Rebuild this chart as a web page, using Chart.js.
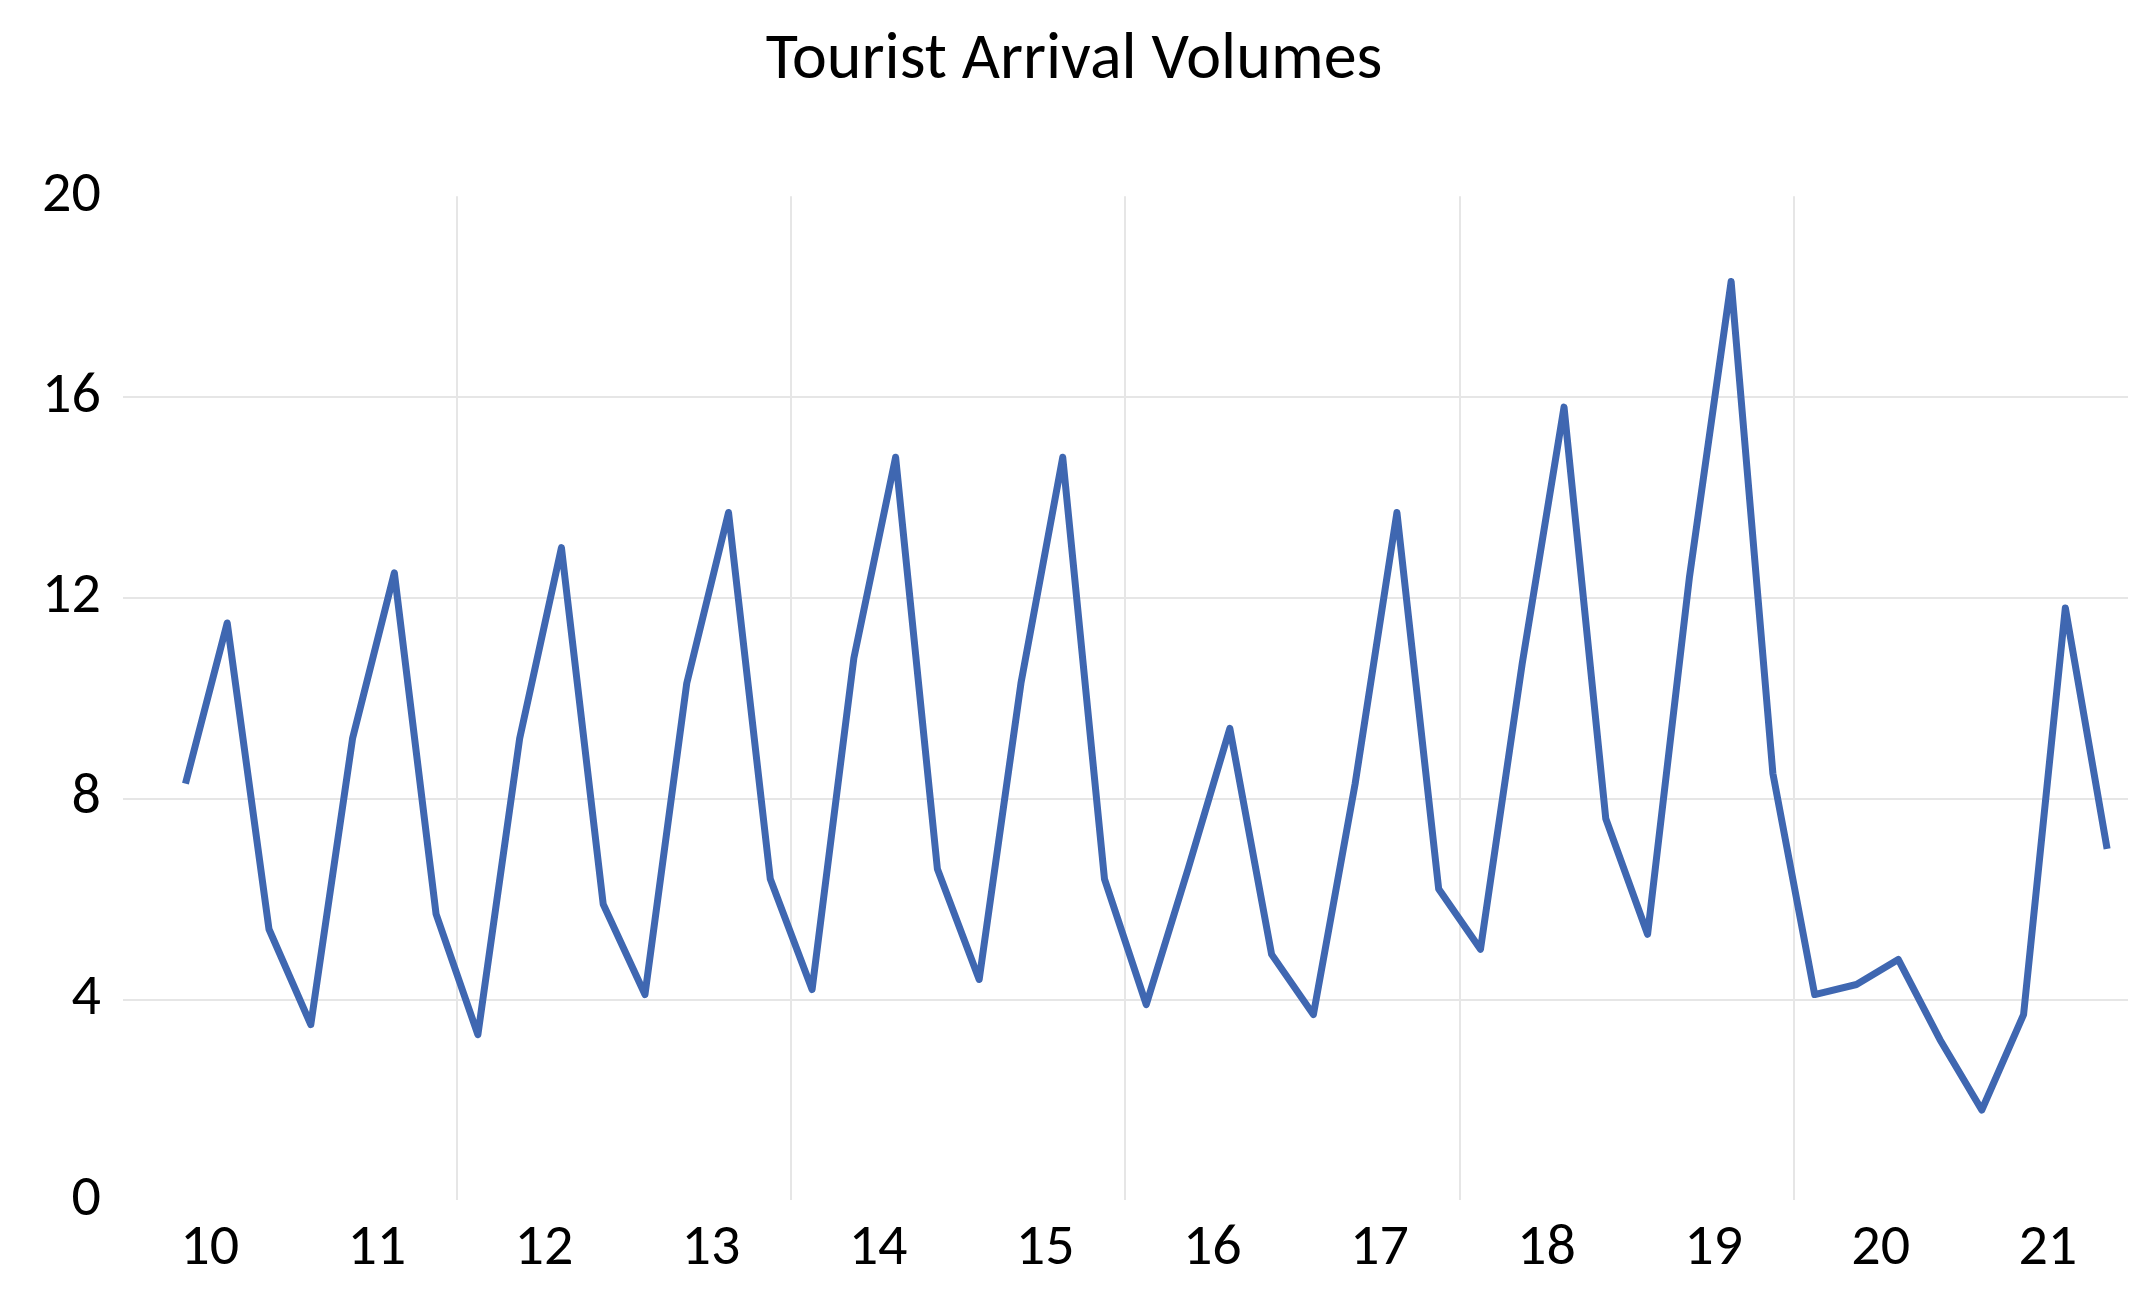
<!DOCTYPE html>
<html>
<head>
<meta charset="utf-8">
<script src="https://cdn.jsdelivr.net/npm/chart.js@4"></script>
<style>
  html, body { margin:0; padding:0; background:#fff; }
  #wrap { width:2153px; height:1305px; }
</style>
</head>
<body>
<div id="wrap"><canvas id="c"></canvas></div>
<script>
const yearLabels = ['10','11','12','13','14','15','16','17','18','19','20','21'];
const arrivals = [8.3, 11.5, 5.4, 3.5, 9.2, 12.5, 5.7, 3.3, 9.2, 13.0, 5.9, 4.1,
  10.3, 13.7, 6.4, 4.2, 10.8, 14.8, 6.6, 4.4, 10.3, 14.8, 6.4, 3.9,
  6.6, 9.4, 4.9, 3.7, 8.3, 13.7, 6.2, 5.0, 10.7, 15.8, 7.6, 5.3,
  12.4, 18.3, 8.5, 4.1, 4.3, 4.8, 3.2, 1.8, 3.7, 11.8, 7.0];
const yTicks = [0, 4, 8, 12, 16, 20];

const points = arrivals.map((v, i) => ({ x: i, y: v }));
const font = { family: 'Calibri, Carlito, "Open Sans", sans-serif', size: 58 };

Chart.defaults.color = '#000';

new Chart(document.getElementById('c'), {
  type: 'line',
  data: { datasets: [{ data: points, borderColor: '#3f67b1', borderWidth: 7, borderJoinStyle: 'round', pointRadius: 0, tension: 0, xAxisID: 'x' }] },
  options: {
    responsive: true, maintainAspectRatio: false, animation: false,
    layout: { padding: { left: 20, right: 25, top: 0, bottom: 15 } },
    plugins: {
      legend: { display: false },
      title: { display: true, text: 'Tourist Arrival Volumes', font: { ...font, size: 66, weight: 'normal' }, color: '#000', padding: { top: 22, bottom: 95 } }
    },
    scales: {
      x: {
        type: 'linear', min: -1.5, max: 46.5,
        afterBuildTicks: a => { a.ticks = yearLabels.map((_, i) => ({ value: 0.58 + 4 * i })); },
        ticks: { font, autoSkip: false, maxRotation: 0, padding: 6, callback: (v, i) => yearLabels[i] },
        grid: { display: false }, border: { display: false }
      },
      xg: {
        type: 'linear', min: -1.5, max: 46.5, position: 'bottom',
        afterBuildTicks: a => { a.ticks = [6.5, 14.5, 22.5, 30.5, 38.5].map(v => ({ value: v })); },
        ticks: { display: false },
        grid: { color: '#e6e6e6', lineWidth: 2, drawTicks: false }, border: { display: false }
      },
      y: {
        min: 0, max: 20,
        afterBuildTicks: a => { a.ticks = yTicks.map(v => ({ value: v })); },
        ticks: { font, padding: 22 },
        grid: { color: c => (c.tick && c.tick.value === 20) || (c.tick && c.tick.value === 0) ? 'rgba(0,0,0,0)' : '#e6e6e6', lineWidth: 2, drawTicks: false },
        border: { display: false }
      }
    }
  }
});
</script>
</body>
</html>
